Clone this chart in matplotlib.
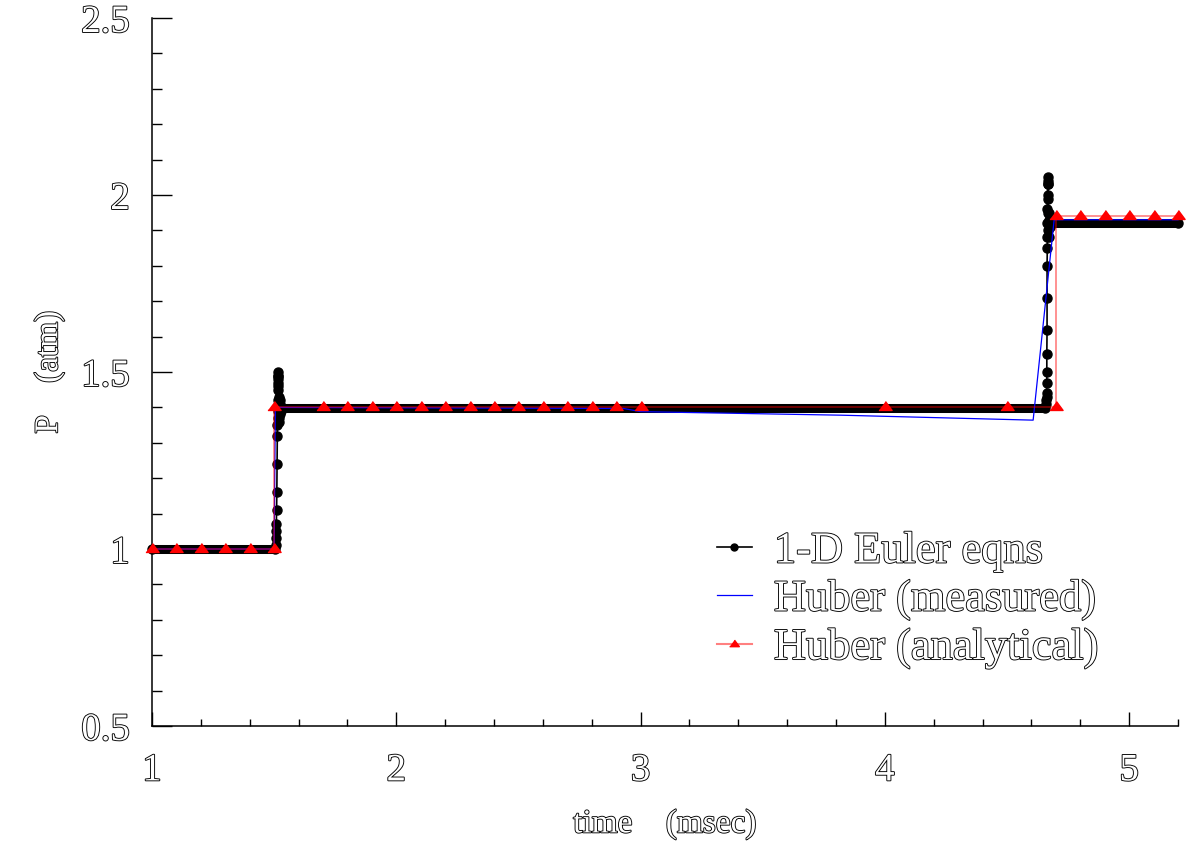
import numpy as np
import matplotlib.pyplot as plt
import matplotlib.patheffects as pe
from matplotlib.lines import Line2D

plt.rcParams['font.family'] = ['Liberation Serif', 'DejaVu Serif']

# 1-D Euler eqns solution (time in msec, P in atm)
euler_t = [1.0, 1.505, 1.506, 1.507, 1.508, 1.509, 1.510, 1.511, 1.512, 1.513, 1.513,
           1.514, 1.514, 1.515, 1.515, 1.515, 1.515, 1.516, 1.516, 1.517, 1.517,
           1.518, 1.519, 1.520, 1.521, 1.522, 1.524, 1.526, 1.528, 1.530,
           4.655, 4.660, 4.661, 4.662, 4.662, 4.663, 4.663, 4.663, 4.664, 4.664,
           4.664, 4.665, 4.665, 4.665, 4.665, 4.666, 4.666, 4.666, 4.666, 4.667,
           4.667, 4.668, 4.669, 4.670, 4.671, 4.673, 4.675, 4.678, 5.2]
euler_p = [1.0, 1.0, 1.01, 1.03, 1.05, 1.07, 1.11, 1.16, 1.24, 1.32, 1.35,
           1.37, 1.39, 1.42, 1.45, 1.47, 1.48, 1.49, 1.50, 1.49, 1.46,
           1.43, 1.40, 1.37, 1.36, 1.38, 1.42, 1.41, 1.39, 1.398,
           1.398, 1.41, 1.42, 1.43, 1.44, 1.47, 1.50, 1.55, 1.62, 1.71,
           1.80, 1.85, 1.88, 1.92, 1.96, 2.00, 2.03, 2.04, 2.05, 2.03,
           1.99, 1.95, 1.90, 1.88, 1.93, 1.95, 1.91, 1.92, 1.92]

# Huber (measured)
meas_t = [1.0, 1.5, 1.505, 2.93, 3.0, 3.82, 4.607, 4.693, 5.2]
meas_p = [1.0, 1.0, 1.40, 1.397, 1.388, 1.378, 1.364, 1.93, 1.93]

# Huber (analytical)
ana_t = [1.0, 1.1, 1.2, 1.3, 1.4, 1.5, 1.5, 1.7, 1.8, 1.9, 2.0, 2.1, 2.2, 2.3, 2.4,
         2.5, 2.6, 2.7, 2.8, 2.9, 3.0, 4.0, 4.5, 4.7, 4.7, 4.8, 4.9, 5.0, 5.1, 5.2]
ana_p = [1.0, 1.0, 1.0, 1.0, 1.0, 1.0, 1.4, 1.4, 1.4, 1.4, 1.4, 1.4, 1.4, 1.4, 1.4,
         1.4, 1.4, 1.4, 1.4, 1.4, 1.4, 1.4, 1.4, 1.4, 1.94, 1.94, 1.94, 1.94, 1.94, 1.94]

outline = [pe.withStroke(linewidth=1.3, foreground='black')]
tri = [(-1, -0.45), (1, -0.45), (0, 0.9)]

fig = plt.figure(figsize=(11.92, 8.54), dpi=100)
ax = fig.add_axes([152/1192, 1-727/854, (1178-152)/1192, (727-19)/854])

# dense solution points look like a thick band on the plateaus
for i in range(len(euler_t) - 1):
    if euler_p[i] == euler_p[i+1]:
        ax.plot(euler_t[i:i+2], euler_p[i:i+2], color='black', lw=6.5,
                solid_capstyle='round', clip_on=False, zorder=2)
ax.plot(euler_t, euler_p, color='black', lw=1.2, marker='o', ms=6.5,
        clip_on=False, zorder=2)
ax.plot(meas_t, meas_p, color='blue', lw=0.9, zorder=3, clip_on=False)
ax.plot(ana_t, ana_p, color='red', lw=1.2, alpha=0.5, zorder=4, clip_on=False)
ax.plot(ana_t, ana_p, ls='none', marker=tri, ms=9.5, color='red', zorder=5, clip_on=False)

ax.set_xlim(1, 5.2)
ax.set_ylim(0.5, 2.5)
ax.set_xticks([1, 2, 3, 4, 5])
ax.set_xticks(np.arange(1, 5.21, 0.2), minor=True)
ax.set_yticks([0.5, 1, 1.5, 2, 2.5])
ax.set_yticks(np.arange(0.5, 2.51, 0.1), minor=True)
ax.set_xticklabels(['1', '2', '3', '4', '5'])
ax.set_yticklabels(['0.5', '1', '1.5', '2', '2.5'])

for s in ['top', 'right']:
    ax.spines[s].set_visible(False)
for s in ['left', 'bottom']:
    ax.spines[s].set_linewidth(1.1)

ax.tick_params(axis='x', which='major', direction='in', length=10, width=1, pad=19, labelsize=28)
ax.tick_params(axis='x', which='minor', direction='in', length=5, width=1)
ax.tick_params(axis='y', which='major', direction='in', length=14.5, width=1, pad=16, labelsize=28)
ax.tick_params(axis='y', which='minor', direction='in', length=7, width=1)

for lab in ax.get_xticklabels() + ax.get_yticklabels():
    lab.set_color('white')
    lab.set_path_effects(outline)

ax.set_xlabel('time    (msec)', fontsize=24, color='white', path_effects=outline, labelpad=14)
ax.set_ylabel('P    (atm)', fontsize=24, color='white', path_effects=outline, labelpad=12)

handles = [Line2D([], [], color='black', lw=1.2, marker='o', ms=5),
           Line2D([], [], color='blue', lw=0.9),
           Line2D([], [], color=(1, 0.5, 0.5), lw=1.5, marker=tri, ms=7, mfc='red', mec='red')]
leg = ax.legend(handles, ['1-D Euler eqns', 'Huber (measured)', 'Huber (analytical)'],
                loc='center left', bbox_to_anchor=(717/1192, 1-601/854),
                bbox_transform=fig.transFigure, frameon=False, fontsize=32,
                handlelength=0.78, handletextpad=0.5, labelspacing=0.17,
                borderpad=0, borderaxespad=0)
for t in leg.get_texts():
    t.set_color('white')
    t.set_path_effects(outline)

fig.savefig('out.png', dpi=100)
